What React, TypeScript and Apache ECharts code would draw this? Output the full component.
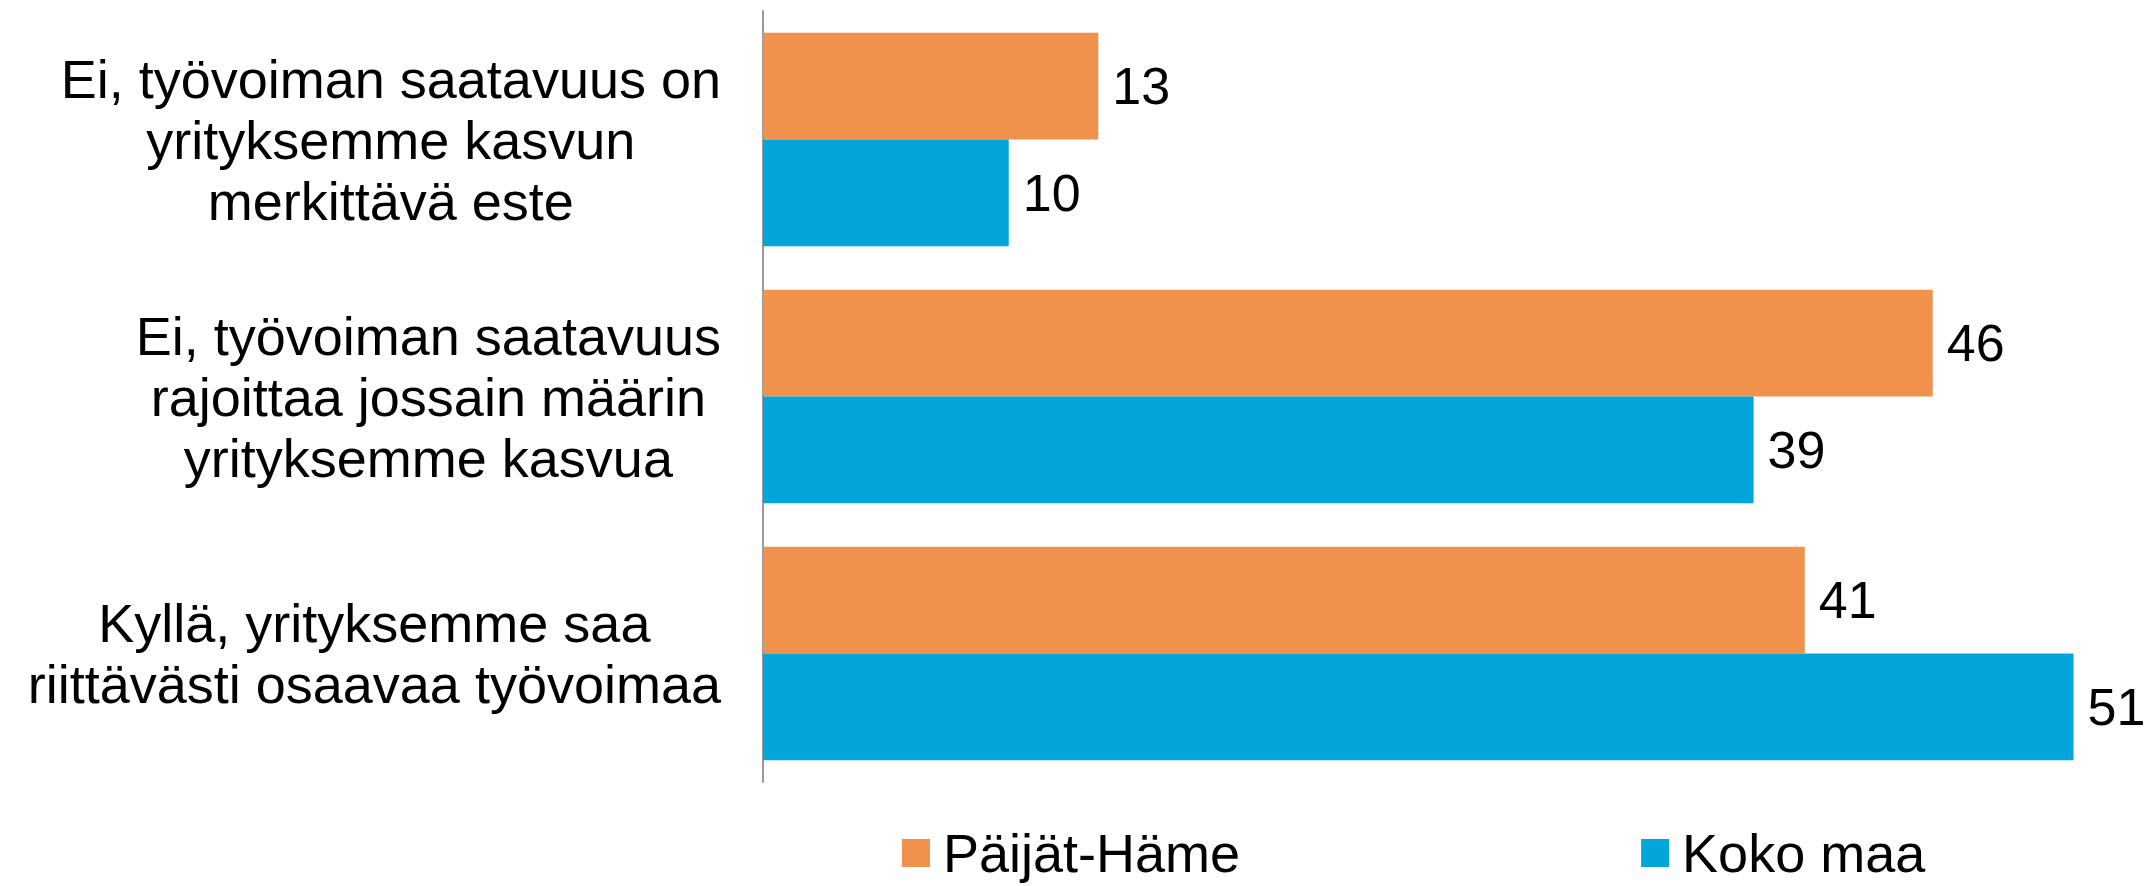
import React, { useEffect, useRef } from "react";
import * as echarts from "echarts";

const categories: string[] = [
  "Ei, työvoiman saatavuus on\nyrityksemme kasvun\nmerkittävä este",
  "Ei, työvoiman saatavuus\nrajoittaa jossain määrin\nyrityksemme kasvua",
  "Kyllä, yrityksemme saa\nriittävästi osaavaa työvoimaa",
];
const seriesNames: string[] = ["Päijät-Häme", "Koko maa"];
const paijatHame: number[] = [13.1, 45.7, 40.7];
const kokoMaa: number[] = [9.6, 38.7, 51.2];

const FONT = "'Liberation Sans', Arial, sans-serif";
const ORANGE = "#F0924C";
const BLUE = "#03A5DA";

export default function App() {
  const ref = useRef<HTMLDivElement>(null);
  useEffect(() => {
    if (!ref.current) return;
    const chart = echarts.init(ref.current, null, { renderer: "svg" });
    const labelCfg = {
      show: true,
      position: "right",
      distance: 14,
      fontSize: 52,
      fontFamily: FONT,
      color: "#000",
      formatter: (p: any) => String(Math.round(p.value)),
    };
    chart.setOption({
      animation: false,
      backgroundColor: "#fff",
      grid: { left: 763, right: 55, top: 11, bottom: 104 },
      legend: {
        data: seriesNames,
        left: 897,
        top: 821,
        itemWidth: 28,
        itemHeight: 28,
        itemGap: 401,
        icon: "rect",
        textStyle: {
          fontSize: 54,
          fontFamily: FONT,
          color: "#000",
          lineHeight: 50,
          padding: [0, 0, 0, 8],
        },
      },
      xAxis: {
        type: "value",
        min: 0,
        max: 52,
        show: false,
        splitLine: { show: false },
      },
      yAxis: {
        type: "category",
        inverse: true,
        data: categories,
        axisLine: { show: true, lineStyle: { color: "#999", width: 2 } },
        axisTick: { show: false },
        axisLabel: {
          align: "right",
          margin: 42,
          formatter: (v: string) =>
            v
              .split("\n")
              .map((l) => `{c|${l}}`)
              .join("\n"),
          rich: {
            c: {
              align: "center",
              fontSize: 54,
              lineHeight: 61,
              fontFamily: FONT,
              color: "#000",
            },
          },
        },
      },
      series: [
        {
          name: seriesNames[0],
          type: "bar",
          data: paijatHame,
          itemStyle: { color: ORANGE },
          barGap: "0%",
          barCategoryGap: "17%",
          label: labelCfg,
        },
        {
          name: seriesNames[1],
          type: "bar",
          data: kokoMaa,
          itemStyle: { color: BLUE },
          barGap: "0%",
          barCategoryGap: "17%",
          label: labelCfg,
        },
      ],
    });
    return () => chart.dispose();
  }, []);
  return (
    <div
      ref={ref}
      style={{ position: "absolute", left: 0, top: 0, width: 2149, height: 886 }}
    />
  );
}
